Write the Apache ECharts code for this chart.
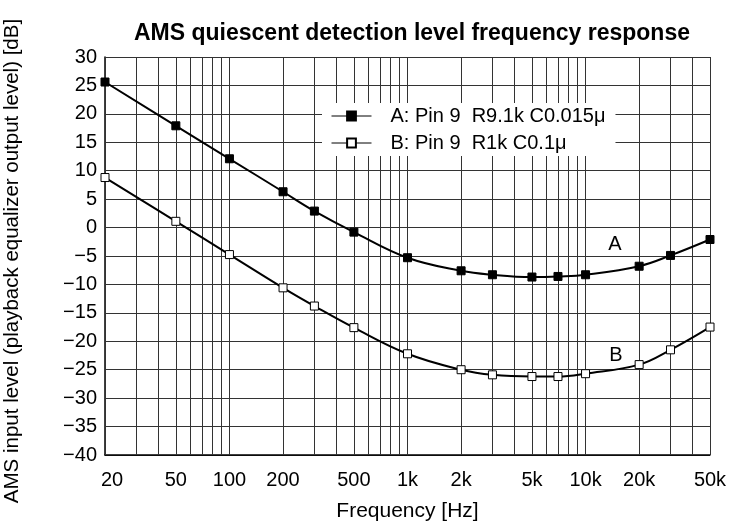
<!DOCTYPE html>
<html><head><meta charset="utf-8">
<script src="https://cdn.jsdelivr.net/npm/echarts@6/dist/echarts.min.js"></script>
<style>html,body{margin:0;padding:0;background:#fff}#c{width:731px;height:529px}</style>
</head><body><div id="c"></div>
<script>
const titleText = 'AMS quiescent detection level frequency response';
const xName = 'Frequency [Hz]';
const yName = 'AMS input level (playback equalizer output level) [dB]';
const seriesNames = ['A: Pin 9  R9.1k C0.015\u03bc', 'B: Pin 9  R1k C0.1\u03bc'];
const curveTags = ['A', 'B'];
const freqs = [20, 50, 100, 200, 300, 500, 1000, 2000, 3000, 5000, 7000, 10000, 20000, 30000, 50000];
const levelA = [25.6, 17.9, 12.1, 6.3, 2.9, -0.8, -5.3, -7.6, -8.3, -8.7, -8.6, -8.3, -6.8, -4.9, -2.1];
const levelB = [8.8, 1.1, -4.75, -10.6, -13.8, -17.6, -22.2, -25.0, -25.9, -26.2, -26.2, -25.7, -24.1, -21.5, -17.5];
const tickValues = [20, 50, 100, 200, 500, 1000, 2000, 5000, 10000, 20000, 50000];
const tickLabels = ['20', '50', '100', '200', '500', '1k', '2k', '5k', '10k', '20k', '50k'];
const gridFreqs = [20, 30, 40, 50, 60, 70, 80, 90,
  100, 200, 300, 400, 500, 600, 700, 800, 900,
  1000, 2000, 3000, 4000, 5000, 6000, 7000, 8000, 9000,
  10000, 20000, 30000, 40000, 50000];
const yTicksMin = -40, yTicksMax = 30, yStep = 5;

const FONT = '"Liberation Sans", Arial, Helvetica, sans-serif';
const GRID_COLOR = '#333';

const chart = echarts.init(document.getElementById('c'), null, {renderer: 'canvas'});

const gridLineData = gridFreqs.map(f => {
  const i = tickValues.indexOf(f);
  const item = {xAxis: f};
  if (i >= 0) {
    item.label = {show: true, formatter: tickLabels[i]};
    if (f === 20) item.label.padding = [0, 0, 0, 14];
  } else {
    item.label = {show: false};
  }
  return item;
});

const option = {
  animation: false,
  backgroundColor: '#fff',
  title: {
    text: titleText,
    left: 407, top: 17, textAlign: 'center',
    textStyle: {fontSize: 23, fontWeight: 'bold', color: '#000', fontFamily: FONT}
  },
  legend: {
    data: seriesNames,
    orient: 'vertical',
    left: 322, top: 103,
    backgroundColor: '#fff',
    padding: [3, 10, 3, 9],
    itemWidth: 40, itemHeight: 11, itemGap: 7,
    lineStyle: {width: 1},
    textStyle: {fontSize: 20, color: '#000', fontFamily: FONT, padding: [0, 0, 0, 14]},
    z: 10
  },
  grid: {left: 105, right: 21, top: 57, bottom: 74, containLabel: false, outerBoundsMode: 'none'},
  xAxis: {
    type: 'log', logBase: 10, min: 20, max: 50000,
    name: xName, nameLocation: 'middle', nameGap: 46,
    nameTextStyle: {fontSize: 21, color: '#000', fontFamily: FONT},
    axisLine: {show: true, onZero: false, lineStyle: {color: '#000', width: 1.5}},
    axisTick: {show: false},
    axisLabel: {show: false},
    splitLine: {show: false},
    minorTick: {show: false},
    minorSplitLine: {show: false}
  },
  yAxis: {
    type: 'value', min: yTicksMin, max: yTicksMax, interval: yStep,
    name: yName, nameLocation: 'middle', nameGap: 82,
    nameTextStyle: {fontSize: 20.5, color: '#000', fontFamily: FONT, padding: [0, 10, 0, 0]},
    axisLine: {show: true, onZero: false, lineStyle: {color: '#000', width: 1.5}},
    axisTick: {show: false},
    axisLabel: {
      margin: 8, fontSize: 20, color: '#000', fontFamily: FONT,
      formatter: v => String(v).replace('-', '\u2212')
    },
    splitLine: {show: true, lineStyle: {color: GRID_COLOR, width: 1}}
  },
  graphic: [
    {type: 'text', x: 615, y: 244, z: 20, style: {text: curveTags[0], font: '20px ' + FONT, fill: '#000', align: 'center', verticalAlign: 'middle'}},
    {type: 'text', x: 616, y: 355, z: 20, style: {text: curveTags[1], font: '20px ' + FONT, fill: '#000', align: 'center', verticalAlign: 'middle'}}
  ],
  series: [
    {
      name: '__grid', type: 'line', data: [], silent: true, z: 1,
      markLine: {
        silent: true, symbol: 'none', z: 1, animation: false,
        lineStyle: {type: 'solid', color: GRID_COLOR, width: 1},
        label: {position: 'start', distance: 15, color: '#000', fontSize: 20, fontFamily: FONT},
        emphasis: {disabled: true},
        data: gridLineData
      }
    },
    {
      name: seriesNames[0], type: 'line', z: 3,
      data: freqs.map((f, i) => [f, levelA[i]]),
      smooth: 0.4,
      symbol: 'rect', symbolSize: 8,
      lineStyle: {color: '#000', width: 2},
      itemStyle: {color: '#000', borderColor: '#000', borderWidth: 1}
    },
    {
      name: seriesNames[1], type: 'line', z: 3,
      data: freqs.map((f, i) => [f, levelB[i]]),
      smooth: 0.4,
      symbol: 'rect', symbolSize: 8,
      lineStyle: {color: '#000', width: 2},
      itemStyle: {color: '#fff', borderColor: '#000', borderWidth: 1}
    }
  ]
};
chart.setOption(option);
</script>
</body></html>
